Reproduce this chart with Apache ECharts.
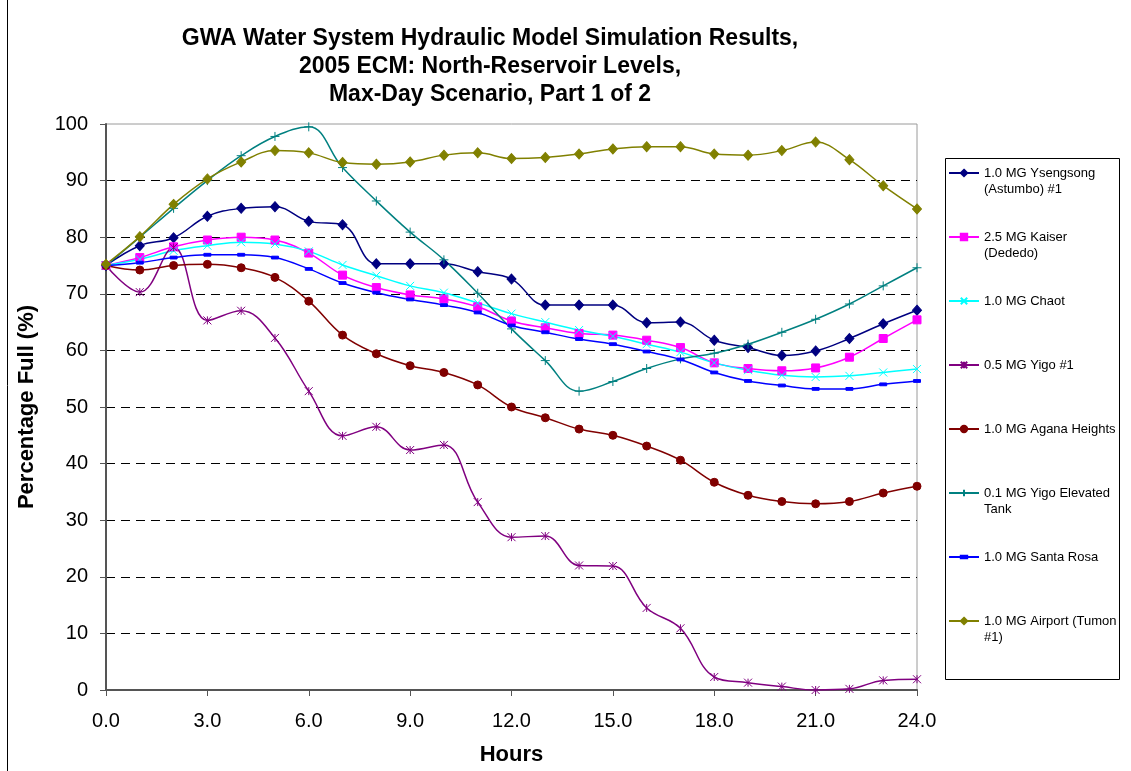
<!DOCTYPE html>
<html>
<head>
<meta charset="utf-8">
<title>GWA North-Reservoir Levels</title>
<script src="https://cdn.jsdelivr.net/npm/echarts@6/dist/echarts.min.js"></script>
<style>
  html, body { margin: 0; padding: 0; background: #fff; }
  #chart { width: 1131px; height: 771px; }
</style>
</head>
<body>
<div id="chart"></div>
<script>
const hours = [0, 1, 2, 3, 4, 5, 6, 7, 8, 9, 10, 11, 12, 13, 14, 15, 16, 17, 18, 19, 20, 21, 22, 23, 24];

const names = [
  "1.0 MG Ysengsong\n(Astumbo) #1",
  "2.5 MG Kaiser\n(Dededo)",
  "1.0 MG Chaot",
  "0.5 MG Yigo #1",
  "1.0 MG Agana Heights",
  "0.1 MG Yigo Elevated\nTank",
  "1.0 MG Santa Rosa",
  "1.0 MG Airport (Tumon\n#1)",
];

// percentage full, one value per hour
const ysengsong = [75, 78.5, 79.9, 83.7, 85.1, 85.4, 82.8, 82.2, 75.3, 75.3, 75.3, 73.9, 72.6, 68.0, 68.0, 68.0, 64.9, 65.0, 61.8, 60.5, 59.1, 59.9, 62.1, 64.7, 67.1];
const kaiser = [75, 76.4, 78.3, 79.5, 80.0, 79.5, 77.2, 73.3, 71.1, 69.8, 69.1, 67.7, 65.2, 64.0, 63.0, 62.7, 61.8, 60.5, 57.8, 56.8, 56.4, 56.9, 58.8, 62.1, 65.4];
const chaot = [75, 76.1, 77.6, 78.5, 79.1, 78.8, 77.5, 75.1, 73.2, 71.4, 70.2, 68.4, 66.5, 65.0, 63.6, 62.5, 61.1, 59.7, 57.8, 56.5, 55.6, 55.3, 55.5, 56.1, 56.7];
const yigo1 = [75, 70.3, 78.2, 65.3, 67.0, 62.2, 52.8, 44.9, 46.5, 42.4, 43.3, 33.2, 27.0, 27.2, 22.0, 21.9, 14.5, 10.9, 2.3, 1.3, 0.6, 0, 0.2, 1.7, 1.9];
const aganaHeights = [75, 74.2, 75.0, 75.2, 74.6, 72.9, 68.7, 62.7, 59.4, 57.3, 56.1, 53.9, 50.0, 48.1, 46.1, 45.0, 43.1, 40.6, 36.7, 34.4, 33.3, 32.9, 33.3, 34.8, 36.0];
const yigoTank = [75, 80, 85.1, 90, 94.4, 97.8, 99.5, 92.3, 86.4, 80.9, 76.0, 70.1, 63.8, 58.2, 52.8, 54.5, 56.8, 58.5, 59.5, 61.1, 63.2, 65.5, 68.2, 71.4, 74.6];
const santaRosa = [75, 75.5, 76.4, 76.9, 76.9, 76.4, 74.4, 71.9, 70.2, 69.0, 68.0, 66.7, 64.4, 63.2, 62.0, 61.1, 59.8, 58.4, 56.1, 54.6, 53.8, 53.2, 53.2, 54.0, 54.6];
const airport = [75.2, 80.1, 85.8, 90.3, 93.3, 95.3, 94.9, 93.2, 92.9, 93.3, 94.5, 94.9, 93.9, 94.1, 94.7, 95.6, 96.0, 96.0, 94.7, 94.5, 95.3, 96.8, 93.7, 89.1, 85.0];

const FONT = "Liberation Sans, Arial, sans-serif";

// marker shapes used by the old spreadsheet chart
const SYM_X = "path://M0,0L10,10M10,0L0,10";
const SYM_STAR = "path://M0,0L10,10M10,0L0,10M5,0L5,10";
const SYM_PLUS = "path://M5,0L5,10M0,5L10,5";
// flat bar in a square box (the empty corners keep it flat in the legend too)
const SYM_DASH = "path://M0,0L0,0M0,3L10,3L10,7L0,7ZM10,10L10,10";

const styles = [
  { values: ysengsong, color: "#000080", symbol: "diamond", size: [9, 10] },
  { values: kaiser, color: "#ff00ff", symbol: "rect", size: 8 },
  { values: chaot, color: "#00ffff", symbol: SYM_X, size: 8 },
  { values: yigo1, color: "#800080", symbol: SYM_STAR, size: 8 },
  { values: aganaHeights, color: "#800000", symbol: "circle", size: 8 },
  { values: yigoTank, color: "#008080", symbol: SYM_PLUS, size: 9 },
  { values: santaRosa, color: "#0000ff", symbol: SYM_DASH, size: 7 },
  { values: airport, color: "#808000", symbol: "diamond", size: [9, 10] },
];

function zip(xs, ys) {
  return xs.map(function (x, i) {
    return [x, ys[i]];
  });
}

const series = styles.map(function (s, i) {
  return {
    name: names[i],
    type: "line",
    data: zip(hours, s.values),
    smooth: 0.4,
    clip: false,
    symbol: s.symbol,
    symbolSize: s.size,
    showAllSymbol: true,
    lineStyle: { color: s.color, width: 1.5 },
    itemStyle: { color: s.color, borderColor: s.color, borderWidth: 1 },
    emphasis: { disabled: true },
  };
});

const chart = echarts.init(document.getElementById("chart"), null, { renderer: "canvas" });

const option = {
  backgroundColor: "#fff",
  animation: false,
  title: {
    text: "GWA Water System Hydraulic Model Simulation Results,\n2005 ECM: North-Reservoir Levels,\nMax-Day Scenario, Part 1 of 2",
    left: 485,
    top: 20,
    textAlign: "center",
    textStyle: {
      fontFamily: FONT,
      fontSize: 23,
      fontWeight: "bold",
      lineHeight: 28,
      color: "#000",
    },
  },
  grid: {
    left: 106,
    right: 214,
    top: 124,
    bottom: 81,
    outerBoundsMode: "none",
    show: true,
    borderColor: "#9a9a9a",
    borderWidth: 1,
    backgroundColor: "#fff",
  },
  legend: {
    orient: "vertical",
    left: 948,
    top: 149,
    padding: 0,
    itemWidth: 30,
    itemHeight: 8,
    itemGap: 16,
    selectedMode: false,
    // every label is three lines tall, so the marker sits on its first text line
    formatter: function (name) {
      return name.indexOf("\n") >= 0 ? "\n" + name : "\n" + name + "\n";
    },
    textStyle: {
      fontFamily: FONT,
      fontSize: 13,
      lineHeight: 16,
      color: "#000",
    },
    data: names,
  },
  xAxis: {
    type: "value",
    min: 0,
    max: 24,
    interval: 3,
    name: "Hours",
    nameLocation: "middle",
    nameGap: 54,
    nameTextStyle: { fontFamily: FONT, fontSize: 22, fontWeight: "bold", color: "#000" },
    axisLine: { show: true, lineStyle: { color: "#555", width: 2 } },
    axisTick: { show: true, length: 6, lineStyle: { color: "#555", width: 1 } },
    axisLabel: {
      margin: 21,
      fontFamily: FONT,
      fontSize: 20,
      color: "#000",
      formatter: function (v) {
        return v.toFixed(1);
      },
    },
    splitLine: { show: false },
  },
  yAxis: {
    type: "value",
    min: 0,
    max: 100,
    interval: 10,
    name: "Percentage Full (%)",
    nameLocation: "middle",
    nameGap: 68,
    nameTextStyle: { fontFamily: FONT, fontSize: 22, fontWeight: "bold", color: "#000" },
    axisLine: { show: true, lineStyle: { color: "#555", width: 2 } },
    axisTick: { show: true, length: 6, lineStyle: { color: "#555", width: 1 } },
    axisLabel: { margin: 18, fontFamily: FONT, fontSize: 20, color: "#000" },
    splitLine: {
      show: true,
      showMinLine: false,
      showMaxLine: false,
      lineStyle: { color: "#000", width: 1, type: [9, 6] },
    },
  },
  graphic: [
    {
      type: "rect",
      left: 943,
      top: 156,
      shape: { width: 174, height: 521 },
      style: { fill: null, stroke: "#000", lineWidth: 1 },
      silent: true,
    },
    {
      type: "line",
      shape: { x1: 7.5, y1: 0, x2: 7.5, y2: 771 },
      style: { stroke: "#000", lineWidth: 1 },
      silent: true,
    },
  ],
  series: series,
};

chart.setOption(option);
</script>
</body>
</html>
